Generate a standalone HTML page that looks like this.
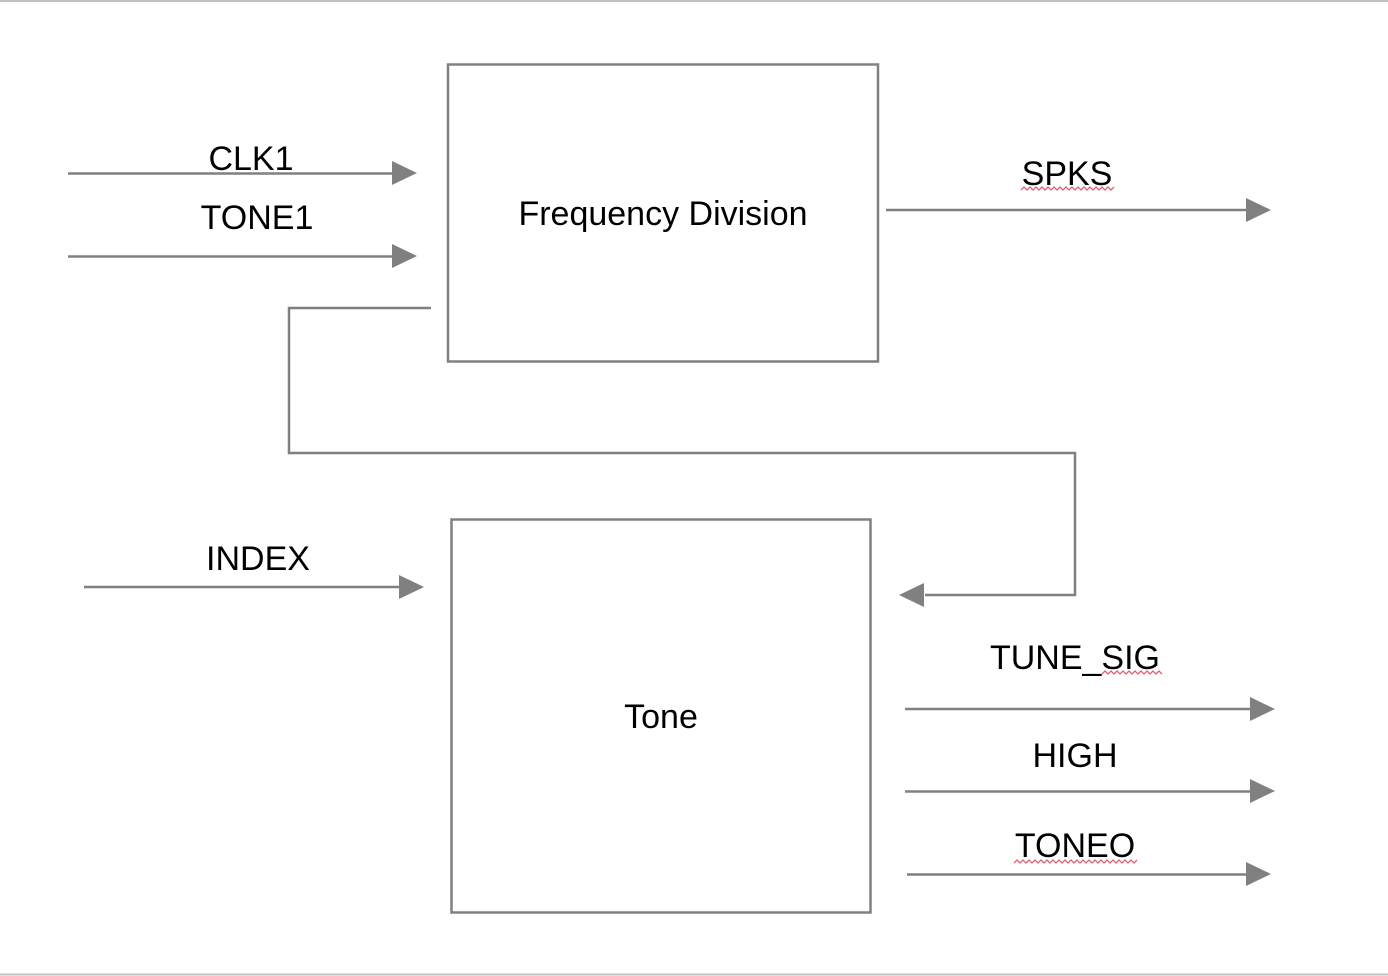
<!DOCTYPE html>
<html><head><meta charset="utf-8"><style>
html,body{margin:0;padding:0;background:#fff;}
svg{display:block;}
text{font-family:"Liberation Sans",Arial,sans-serif;font-size:34px;fill:#000;}
</style></head><body>
<svg width="1388" height="976" viewBox="0 0 1388 976" xmlns="http://www.w3.org/2000/svg">
<line x1="0" y1="1" x2="1388" y2="1" stroke="#c0c0c0" stroke-width="2"/>
<line x1="0" y1="974.5" x2="1388" y2="974.5" stroke="#c0c0c0" stroke-width="2"/>
<g stroke="#808080" stroke-width="2.5" fill="none">
<rect x="448" y="64.5" width="430" height="297"/>
<rect x="451.5" y="519.5" width="419" height="393"/>
<polyline points="431,308 289,308 289,453 1075,453 1075,595 925,595"/>
</g>
<g fill="#808080">
<path d="M392,161 L417,173 L392,185 Z"/>
<path d="M392,244 L417,256 L392,268 Z"/>
<path d="M1246,198 L1271,210 L1246,222 Z"/>
<path d="M399,575 L424,587 L399,599 Z"/>
<path d="M924,583 L899,595 L924,607 Z"/>
<path d="M1250,697 L1275,709 L1250,721 Z"/>
<path d="M1250,779 L1275,791 L1250,803 Z"/>
<path d="M1246,862 L1271,874 L1246,886 Z"/>
</g>
<g stroke="#808080" stroke-width="2.5">
<line x1="68" y1="173.5" x2="395" y2="173.5"/>
<line x1="68" y1="256.5" x2="395" y2="256.5"/>
<line x1="886" y1="210" x2="1250" y2="210"/>
<line x1="84" y1="587" x2="402" y2="587"/>
<line x1="905" y1="709" x2="1253" y2="709"/>
<line x1="905" y1="791.5" x2="1253" y2="791.5"/>
<line x1="907" y1="874.5" x2="1249" y2="874.5"/>
</g>
<text x="251" y="170" text-anchor="middle">CLK1</text>
<text x="257" y="229" text-anchor="middle">TONE1</text>
<text x="663" y="225" text-anchor="middle">Frequency Division</text>
<text x="1067" y="185" text-anchor="middle">SPKS</text>
<text x="258" y="570" text-anchor="middle">INDEX</text>
<text x="661" y="728" text-anchor="middle">Tone</text>
<text x="1075" y="669" text-anchor="middle">TUNE_SIG</text>
<text x="1075" y="767" text-anchor="middle">HIGH</text>
<text x="1075" y="857" text-anchor="middle">TONEO</text>
<g stroke="#e06070" stroke-width="1.3" fill="none">
<polyline points="1021,190 1024,187 1027,190 1030,187 1033,190 1036,187 1039,190 1042,187 1045,190 1048,187 1051,190 1054,187 1057,190 1060,187 1063,190 1066,187 1069,190 1072,187 1075,190 1078,187 1081,190 1084,187 1087,190 1090,187 1093,190 1096,187 1099,190 1102,187 1105,190 1108,187 1111,190 1114,187"/>
<polyline points="1102,674 1105,671 1108,674 1111,671 1114,674 1117,671 1120,674 1123,671 1126,674 1129,671 1132,674 1135,671 1138,674 1141,671 1144,674 1147,671 1150,674 1153,671 1156,674 1159,671 1162,674"/>
<polyline points="1014,863 1017,860 1020,863 1023,860 1026,863 1029,860 1032,863 1035,860 1038,863 1041,860 1044,863 1047,860 1050,863 1053,860 1056,863 1059,860 1062,863 1065,860 1068,863 1071,860 1074,863 1077,860 1080,863 1083,860 1086,863 1089,860 1092,863 1095,860 1098,863 1101,860 1104,863 1107,860 1110,863 1113,860 1116,863 1119,860 1122,863 1125,860 1128,863 1131,860 1134,863 1137,860"/>
</g>
</svg>
</body></html>
